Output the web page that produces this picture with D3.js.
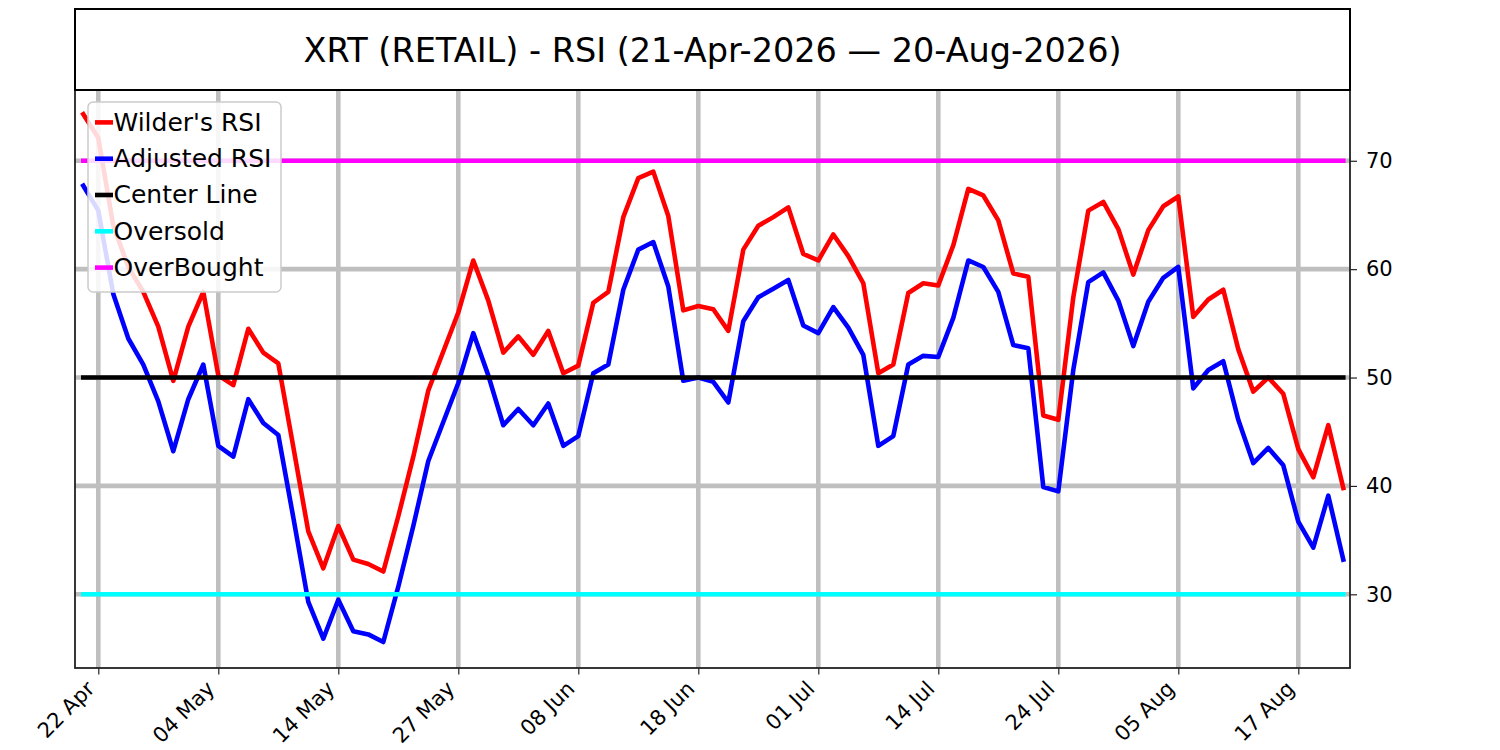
<!DOCTYPE html>
<html>
<head>
<meta charset="utf-8">
<script src="https://cdn.jsdelivr.net/npm/d3@7"></script>
<style>
  body { margin: 0; background: #ffffff; }
  svg { font-family: "DejaVu Sans", sans-serif; }
</style>
</head>
<body>
<div id="chart"></div>
<script>
"use strict"

// trading days shown on the chart (one point per day)
let dates = [
  "2026-04-21","2026-04-22","2026-04-23","2026-04-24","2026-04-27","2026-04-28","2026-04-29","2026-04-30",
  "2026-05-01","2026-05-04","2026-05-05","2026-05-06","2026-05-07","2026-05-08","2026-05-11","2026-05-12",
  "2026-05-13","2026-05-14","2026-05-15","2026-05-18","2026-05-19","2026-05-20","2026-05-21","2026-05-22",
  "2026-05-26","2026-05-27","2026-05-28","2026-05-29","2026-06-01","2026-06-02","2026-06-03","2026-06-04",
  "2026-06-05","2026-06-08","2026-06-09","2026-06-10","2026-06-11","2026-06-12","2026-06-15","2026-06-16",
  "2026-06-17","2026-06-18","2026-06-22","2026-06-23","2026-06-24","2026-06-25","2026-06-26","2026-06-29",
  "2026-06-30","2026-07-01","2026-07-02","2026-07-06","2026-07-07","2026-07-08","2026-07-09","2026-07-10",
  "2026-07-13","2026-07-14","2026-07-15","2026-07-16","2026-07-17","2026-07-20","2026-07-21","2026-07-22",
  "2026-07-23","2026-07-24","2026-07-27","2026-07-28","2026-07-29","2026-07-30","2026-07-31","2026-08-03",
  "2026-08-04","2026-08-05","2026-08-06","2026-08-07","2026-08-10","2026-08-11","2026-08-12","2026-08-13",
  "2026-08-14","2026-08-17","2026-08-18","2026-08-19","2026-08-20"
];

let wildersRsi = [
  74.3, 72.1, 64.0, 60.2, 57.9, 54.7, 49.7, 54.7, 57.9, 50.2,
  49.3, 54.5, 52.3, 51.3, 43.6, 35.8, 32.4, 36.3, 33.2, 32.8,
  32.1, 37.2, 42.7, 48.8, 52.4, 56.0, 60.8, 57.1, 52.3, 53.8,
  52.1, 54.3, 50.4, 51.1, 56.9, 57.9, 64.8, 68.4, 69.0, 64.9,
  56.2, 56.6, 56.3, 54.3, 61.8, 64.0, 64.8, 65.7, 61.4, 60.8,
  63.2, 61.2, 58.7, 50.4, 51.2, 57.8, 58.7, 58.5, 62.2, 67.4,
  66.8, 64.5, 59.6, 59.3, 46.5, 46.1, 57.4, 65.4, 66.2, 63.7,
  59.5, 63.6, 65.8, 66.7, 55.6, 57.2, 58.1, 52.6, 48.7, 50.0,
  48.5, 43.4, 40.8, 45.6, 39.8
];

let adjustedRsi = [
  67.7, 65.4, 57.7, 53.6, 51.2, 47.8, 43.2, 48.0, 51.2, 43.7,
  42.7, 48.0, 45.8, 44.7, 37.1, 29.3, 25.9, 29.5, 26.6, 26.3,
  25.6, 30.7, 36.3, 42.3, 45.9, 49.5, 54.1, 50.2, 45.6, 47.1,
  45.6, 47.6, 43.7, 44.6, 50.4, 51.2, 58.1, 61.8, 62.5, 58.4,
  49.7, 50.0, 49.6, 47.7, 55.2, 57.4, 58.2, 59.0, 54.8, 54.1,
  56.5, 54.6, 52.1, 43.7, 44.6, 51.2, 52.0, 51.9, 55.5, 60.8,
  60.2, 57.9, 53.0, 52.7, 39.9, 39.5, 50.7, 58.8, 59.7, 57.1,
  52.9, 57.0, 59.2, 60.2, 49.0, 50.7, 51.5, 46.1, 42.1, 43.5,
  41.9, 36.7, 34.3, 39.1, 33.2
];

let centerLevel = 50;
let oversoldLevel = 30;
let overboughtLevel = 70;

let seriesNames = ["Wilder's RSI", "Adjusted RSI", "Center Line", "Oversold", "OverBought"];
let seriesColors = ["#ff0000", "#0000ff", "#000000", "#00ffff", "#ff00ff"];

let xTickIndex = [1, 9, 17, 25, 33, 41, 49, 57, 65, 73, 81];
let yTickValues = [30, 40, 50, 60, 70];

let titleText = "XRT (RETAIL) - RSI (21-Apr-2026 \u2014 20-Aug-2026)";

let drawingWidth = 1500;
let drawingHeight = 750;
let plotLeft = 75, plotRight = 1350, plotTop = 90, plotBottom = 668;
let lineWidth = 4.6;

let drawing = d3.select("#chart")
    .append("svg")
    .attr("width", drawingWidth)
    .attr("height", drawingHeight);

drawing.append("rect")
    .attr("width", drawingWidth)
    .attr("height", drawingHeight)
    .attr("fill", "#ffffff");

let x = d3.scaleLinear().domain([-0.553, 84.447]).range([plotLeft, plotRight]);
let y = d3.scaleLinear().domain([23.2, 76.53]).range([plotBottom, plotTop]);

let parseDate = d3.timeParse("%Y-%m-%d");
let tickFormat = d3.timeFormat("%d %b");

drawing.append("clipPath").attr("id", "plot-clip")
    .append("rect")
    .attr("x", plotLeft).attr("y", plotTop)
    .attr("width", plotRight - plotLeft).attr("height", plotBottom - plotTop);

/* grid */
let grid = drawing.append("g").attr("stroke", "#bfbfbf").attr("stroke-width", lineWidth);
grid.selectAll(".vgrid").data(xTickIndex).join("line")
    .attr("x1", d => x(d)).attr("x2", d => x(d))
    .attr("y1", plotTop).attr("y2", plotBottom);
grid.selectAll(".hgrid").data(yTickValues).join("line")
    .attr("x1", plotLeft).attr("x2", plotRight)
    .attr("y1", d => y(d)).attr("y2", d => y(d));

/* lines */
let indexes = dates.map((d, i) => i);
let lineGen = d3.line().x(d => x(d[0])).y(d => y(d[1]));

let lineData = [
  indexes.map(i => [i, wildersRsi[i]]),
  indexes.map(i => [i, adjustedRsi[i]]),
  indexes.map(i => [i, centerLevel]),
  indexes.map(i => [i, oversoldLevel]),
  indexes.map(i => [i, overboughtLevel])
];

let lines = drawing.append("g").attr("clip-path", "url(#plot-clip)");
lines.selectAll("path").data(lineData).join("path")
    .attr("d", d => lineGen(d))
    .attr("fill", "none")
    .attr("stroke", (d, i) => seriesColors[i])
    .attr("stroke-width", lineWidth)
    .attr("stroke-linejoin", "round")
    .attr("stroke-linecap", "square");

/* axes */
let yAxis = drawing.append("g")
    .attr("transform", `translate(${plotRight},0)`)
    .call(d3.axisRight(y).tickValues(yTickValues).tickSize(7).tickPadding(9).tickFormat(d3.format("d")));
yAxis.select(".domain").remove();
yAxis.selectAll("line").attr("stroke", "#222").attr("stroke-width", 1.2);
yAxis.selectAll("text").attr("font-size", 21).attr("fill", "#000")
    .attr("font-family", "DejaVu Sans");

let xAxis = drawing.append("g")
    .attr("transform", `translate(0,${plotBottom})`)
    .call(d3.axisBottom(x).tickValues(xTickIndex).tickSize(6.5)
        .tickFormat(i => tickFormat(parseDate(dates[i]))));
xAxis.select(".domain").remove();
xAxis.selectAll("line").attr("stroke", "#222").attr("stroke-width", 1.2);
xAxis.selectAll("text")
    .attr("y", 0).attr("dy", 0)
    .attr("text-anchor", "end")
    .attr("transform", "translate(-3,22) rotate(-45)")
    .attr("font-size", 21).attr("fill", "#000")
    .attr("font-family", "DejaVu Sans");

/* plot frame */
drawing.append("rect")
    .attr("x", plotLeft).attr("y", plotTop)
    .attr("width", plotRight - plotLeft).attr("height", plotBottom - plotTop)
    .attr("fill", "none").attr("stroke", "#222").attr("stroke-width", 1.8);

/* title box */
drawing.append("rect")
    .attr("x", plotLeft).attr("y", 9)
    .attr("width", plotRight - plotLeft).attr("height", plotTop - 9)
    .attr("fill", "none").attr("stroke", "#000").attr("stroke-width", 2);

drawing.append("text")
    .attr("x", (plotLeft + plotRight) / 2)
    .attr("y", 61.5)
    .attr("text-anchor", "middle")
    .attr("font-size", 33.5)
    .attr("fill", "#000")
    .text(titleText);

/* legend */
let legend = drawing.append("g");
legend.append("rect")
    .attr("x", 88).attr("y", 102)
    .attr("width", 193).attr("height", 190)
    .attr("rx", 5)
    .attr("fill", "#ffffff").attr("fill-opacity", 0.85)
    .attr("stroke", "#cccccc").attr("stroke-width", 1.5);

let legendRows = legend.selectAll(".row").data(seriesNames).join("g")
    .attr("transform", (d, i) => `translate(0,${130.7 + i * 36.3})`);
legendRows.append("line")
    .attr("x1", 95).attr("x2", 113)
    .attr("y1", -8.3).attr("y2", -8.3)
    .attr("stroke", (d, i) => seriesColors[i])
    .attr("stroke-width", lineWidth);
legendRows.append("text")
    .attr("x", 113.5).attr("y", 0)
    .attr("font-size", 25)
    .attr("fill", "#000")
    .text(d => d);
</script>
</body>
</html>
